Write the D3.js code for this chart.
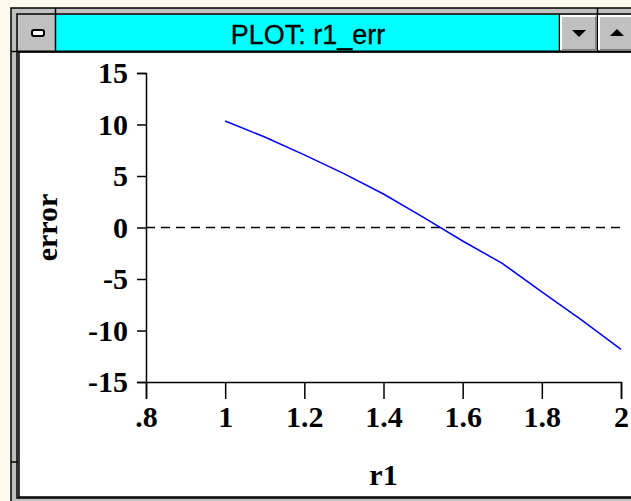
<html>
  <head>
    <meta charset="utf-8">
    <style>
      body { margin: 0; background: #fffaf0; }
      .axis path, .axis line { stroke: #000; stroke-width: 1.5px; }
      .axis text { font-family: "Liberation Serif", serif; font-weight: bold; font-size: 30px; fill: #000; }
      .label { font-family: "Liberation Serif", serif; font-weight: bold; font-size: 30px; fill: #000; }
      .line1 { fill: none; stroke: #0000ff; stroke-width: 1.5px; }
      .zero { stroke: #000; stroke-width: 1.6px; stroke-dasharray: 9 6; }
    </style>
  </head>
<body>
  <svg width="631" height="501"></svg>
  <script src="https://d3js.org/d3.v7.min.js"></script>
  <script>
    // data
    var r1 = [1.0, 1.1, 1.2, 1.3, 1.4, 1.5, 1.6, 1.7, 1.8, 1.9, 2.0];
    var err = [10.34, 8.79, 7.05, 5.23, 3.25, 1.0, -1.31, -3.48, -6.26, -8.97, -11.83];
    var xTicks = [0.8, 1, 1.2, 1.4, 1.6, 1.8, 2];
    var xTickLabels = [".8", "1", "1.2", "1.4", "1.6", "1.8", "2"];
    var yTicks = [-15, -10, -5, 0, 5, 10, 15];
    var yTickLabels = ["-15", "-10", "-5", "0", "5", "10", "15"];
    var title = "PLOT: r1_err";

    var svg = d3.select("svg");

    // window frame
    svg.append("rect").attr("x", 11).attr("y", 8).attr("width", 640).attr("height", 500)
      .attr("fill", "#c0c0c0").attr("stroke", "#000").attr("stroke-width", 1.5);
    svg.append("rect").attr("x", 17).attr("y", 14).attr("width", 630).attr("height", 484)
      .attr("fill", "#c0c0c0").attr("stroke", "#000").attr("stroke-width", 1.5);
    // content area
    svg.append("rect").attr("x", 19).attr("y", 52).attr("width", 620).attr("height", 445)
      .attr("fill", "#fff").attr("stroke", "#000").attr("stroke-width", 1.5);
    // resize notch
    svg.append("line").attr("x1", 11).attr("x2", 18).attr("y1", 462).attr("y2", 462).attr("stroke", "#000").attr("stroke-width", 1.5);

    // title bar
    svg.append("rect").attr("x", 56).attr("y", 15).attr("width", 503).attr("height", 36).attr("fill", "#00ffff");
    svg.append("line").attr("x1", 17).attr("x2", 640).attr("y1", 51.5).attr("y2", 51.5).attr("stroke", "#000").attr("stroke-width", 2);
    svg.append("line").attr("x1", 55.5).attr("x2", 55.5).attr("y1", 14).attr("y2", 52).attr("stroke", "#000").attr("stroke-width", 1.5);
    svg.append("line").attr("x1", 559.5).attr("x2", 559.5).attr("y1", 14).attr("y2", 52).attr("stroke", "#000").attr("stroke-width", 1.5);
    svg.append("line").attr("x1", 597.5).attr("x2", 597.5).attr("y1", 8).attr("y2", 52).attr("stroke", "#000").attr("stroke-width", 1.5);
    svg.append("line").attr("x1", 55.5).attr("x2", 55.5).attr("y1", 8).attr("y2", 14).attr("stroke", "#000").attr("stroke-width", 1.5);
    svg.append("line").attr("x1", 11).attr("x2", 17).attr("y1", 51.5).attr("y2", 51.5).attr("stroke", "#000").attr("stroke-width", 1.5);

    // system menu icon
    svg.append("rect").attr("x", 32).attr("y", 30).attr("width", 12).attr("height", 6).attr("rx", 2)
      .attr("fill", "#fff").attr("stroke", "#000").attr("stroke-width", 2);

    // min / max buttons
    [[561, "M572,30 L586,30 L579,37 Z"], [599, "M610,36 L624,36 L617,29 Z"]].forEach(function(b) {
      svg.append("path").attr("d", "M" + (b[0] + 35) + ",16 V50 H" + b[0]).attr("fill", "none").attr("stroke", "#808080").attr("stroke-width", 2);
      svg.append("path").attr("d", "M" + b[0] + ",50 V16 H" + (b[0] + 35)).attr("fill", "none").attr("stroke", "#fff").attr("stroke-width", 2);
      svg.append("path").attr("d", b[1]).attr("fill", "#000");
    });

    svg.append("text").attr("x", 308).attr("y", 44).attr("text-anchor", "middle")
      .style("font-family", "Liberation Sans, Arial, sans-serif").style("font-size", "27px")
      .style("stroke", "#000").style("stroke-width", 0.3).text(title);

    // plot
    var x = d3.scaleLinear().domain([0.8, 2]).range([146, 621]);
    var y = d3.scaleLinear().domain([-15, 15]).range([382, 73]);

    svg.append("g")
      .attr("class", "axis")
      .attr("transform", "translate(0,382)")
      .call(d3.axisBottom(x).tickValues(xTicks).tickSize(17).tickPadding(7)
        .tickFormat(function(d, i) { return xTickLabels[i]; }));

    svg.append("g")
      .attr("class", "axis")
      .attr("transform", "translate(146,0)")
      .call(d3.axisLeft(y).tickValues(yTicks).tickSize(9).tickPadding(9)
        .tickFormat(function(d, i) { return yTickLabels[i]; }));

    svg.append("line").attr("class", "zero")
      .attr("x1", x(0.8)).attr("x2", x(2)).attr("y1", y(0)).attr("y2", y(0));

    var line = d3.line()
      .x(function(d, i) { return x(r1[i]); })
      .y(function(d) { return y(d); });

    svg.append("path")
      .datum(err)
      .attr("class", "line1")
      .attr("d", line);

    svg.append("text").attr("class", "label")
      .attr("x", (x(0.8) + x(2)) / 2).attr("y", 485).attr("text-anchor", "middle").text("r1");

    svg.append("text").attr("class", "label")
      .attr("transform", "translate(57," + y(0) + ") rotate(-90)")
      .attr("text-anchor", "middle").text("error");
  </script>
  </body>
</html>
